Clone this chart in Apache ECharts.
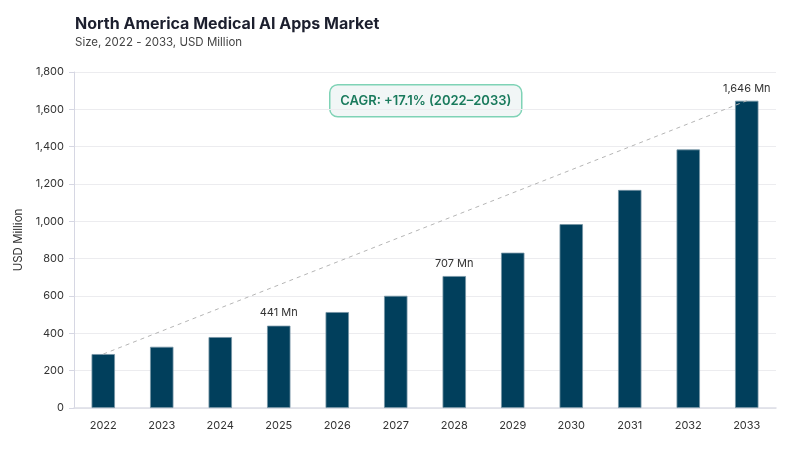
<!DOCTYPE html>
<html>
<head>
<meta charset="utf-8">
<script src="https://cdn.jsdelivr.net/npm/echarts@6/dist/echarts.min.js"></script>
<style>html,body{margin:0;padding:0;background:#fff}#c{width:800px;height:450px}</style>
</head>
<body>
<div id="c"></div>
<script>
const years = ['2022','2023','2024','2025','2026','2027','2028','2029','2030','2031','2032','2033'];
const values = [289, 328, 380, 441, 514, 601, 707, 832, 985, 1168, 1385, 1646];
const labelledYears = ['2025','2028','2033'];
const yTicks = [0, 200, 400, 600, 800, 1000, 1200, 1400, 1600, 1800];
const cagrText = 'CAGR: +17.1% (2022–2033)';

const F = 'Inter, "Noto Sans", sans-serif';
const chart = echarts.init(document.getElementById('c'), null, {renderer: 'canvas'});
const fmt = v => v.toLocaleString('en-US');

chart.setOption({
  animation: false,
  textStyle: {fontFamily: F},
  title: {
    text: 'North America Medical AI Apps Market',
    subtext: 'Size, 2022 - 2033, USD Million',
    left: 70, top: 11,
    itemGap: 5,
    textStyle: {fontFamily: F, fontSize: 16, fontWeight: 'bold', color: '#1c1f2e'},
    subtextStyle: {fontFamily: F, fontSize: 11.5, color: '#444'}
  },
  grid: {left: 74, right: 24, top: 72, bottom: 42, containLabel: false},
  xAxis: {
    type: 'category',
    data: years,
    axisLine: {lineStyle: {color: '#dcdde6', width: 1.5}},
    axisTick: {show: false},
    axisLabel: {color: '#333', fontSize: 11, margin: 12, fontFamily: F}
  },
  yAxis: {
    type: 'value',
    min: yTicks[0], max: yTicks[yTicks.length - 1], interval: 200,
    name: 'USD Million',
    nameLocation: 'middle',
    nameGap: 48,
    nameTextStyle: {color: '#333', fontSize: 11.5, fontFamily: F},
    axisLine: {show: true, lineStyle: {color: '#d6d7e3'}},
    axisTick: {show: true, length: 5, lineStyle: {color: '#d6d7e3'}},
    axisLabel: {color: '#333', fontSize: 11, margin: 10, formatter: v => fmt(v), fontFamily: F},
    splitLine: {lineStyle: {color: '#ececef'}}
  },
  series: [{
    type: 'bar',
    data: values.map((v, i) => ({
      value: v,
      label: {show: labelledYears.includes(years[i])}
    })),
    barWidth: '40%',
    itemStyle: {color: '#013f5c', borderColor: '#7594a5', borderWidth: 0.8},
    label: {
      position: 'top', distance: 7,
      color: '#333', fontSize: 11, fontFamily: F,
      formatter: p => fmt(p.value) + ' Mn'
    },
    markLine: {
      silent: true,
      symbol: ['none', 'none'],
      label: {show: false},
      lineStyle: {type: [4, 4], color: '#b5b5b5', width: 1},
      data: [[
        {coord: [years[0], values[0]]},
        {coord: [years[years.length - 1], values[values.length - 1]]}
      ]]
    }
  }],
  graphic: [{
    type: 'group',
    left: 329, top: 84,
    children: [{
      type: 'rect',
      shape: {x: 0, y: 0, width: 192, height: 32, r: 8},
      style: {fill: '#f1f6f6', stroke: '#7fd3b6', lineWidth: 1.5}
    }, {
      type: 'text',
      x: 96, y: 16,
      style: {text: cagrText, fill: '#197a5c', font: '600 13px ' + F, align: 'center', verticalAlign: 'middle'}
    }]
  }]
});
</script>
</body>
</html>
